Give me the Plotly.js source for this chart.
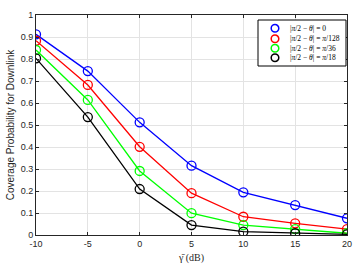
<!DOCTYPE html>
<html>
<head>
<meta charset="utf-8">
<script src="https://cdn.plot.ly/plotly-3.0.1.min.js"></script>
<style>html,body{margin:0;padding:0;background:#fff;}#chart{width:355px;height:264px;}</style>
</head>
<body>
<div id="chart"></div>
<script>
const snr = [-10, -5, 0, 5, 10, 15, 20];
const cov0 = [0.912, 0.745, 0.512, 0.315, 0.194, 0.136, 0.076];
const cov128 = [0.883, 0.682, 0.401, 0.190, 0.083, 0.053, 0.027];
const cov36 = [0.841, 0.614, 0.291, 0.099, 0.045, 0.027, 0.008];
const cov18 = [0.803, 0.536, 0.209, 0.045, 0.015, 0.008, 0.003];
const names = [
  "|<i>π</i>/2 − <i>θ</i>| = 0",
  "|<i>π</i>/2 − <i>θ</i>| = <i>π</i>/128",
  "|<i>π</i>/2 − <i>θ</i>| = <i>π</i>/36",
  "|<i>π</i>/2 − <i>θ</i>| = <i>π</i>/18"
];
const xTickVals = [-10, -5, 0, 5, 10, 15, 20];
const xTickText = ["-10", "-5", "0", "5", "10", "15", "20"];
const yTickVals = [0, 0.1, 0.2, 0.3, 0.4, 0.5, 0.6, 0.7, 0.8, 0.9, 1];
const yTickText = ["0", "0.1", "0.2", "0.3", "0.4", "0.5", "0.6", "0.7", "0.8", "0.9", "1"];
const series = [cov0, cov128, cov36, cov18];
const colors = ["#0000ff", "#ff0000", "#00ff00", "#000000"];

const data = series.map((s, i) => ({
  x: snr, y: s, name: names[i], type: "scatter", mode: "lines+markers", showlegend: false,
  line: {color: colors[i], width: 1.3},
  marker: {symbol: "circle-open", size: 9, color: colors[i], line: {width: 1.3, color: colors[i]}}
}));

// custom compact legend (MATLAB style)
const plotW = 355 - 36 - 8, plotH = 264 - 15 - 29;
const legL = (258 - 36) / plotW, legR = (346 - 36) / plotW;
const legT = (235 - 20) / plotH, legB = (235 - 66) / plotH;
const rowY = [28.3, 38.8, 48.3, 57.7].map(v => (235 - v) / plotH);
const symX = (275 - 36) / plotW, txtX = (288 - 36) / plotW;
const rx = 3.8 / plotW, ry = 3.8 / plotH;
const shapes = [{type: "rect", xref: "paper", yref: "paper", x0: legL, x1: legR, y0: legB, y1: legT,
  fillcolor: "#ffffff", line: {color: "#000000", width: 1}, layer: "above"}];
const annotations = [];
names.forEach((n, i) => {
  shapes.push({type: "circle", xref: "paper", yref: "paper", x0: symX - rx, x1: symX + rx,
    y0: rowY[i] - ry, y1: rowY[i] + ry, line: {color: colors[i], width: 1.5}, layer: "above"});
  annotations.push({xref: "paper", yref: "paper", x: txtX, y: rowY[i], xanchor: "left", yanchor: "middle",
    text: n, showarrow: false, font: {family: "Liberation Serif, serif", size: 7.5, color: "#000"}});
});

const axisCommon = {
  showline: true, linecolor: "#262626", linewidth: 1, mirror: "allticks",
  ticks: "inside", ticklen: 3, tickcolor: "#262626",
  showgrid: true, gridcolor: "#e3e3e3", gridwidth: 1, zeroline: false,
  tickfont: {family: "Liberation Sans, Arial, sans-serif", size: 9, color: "#262626"}
};
const layout = {
  width: 355, height: 264,
  margin: {l: 36, r: 8, t: 15, b: 29},
  paper_bgcolor: "#ffffff", plot_bgcolor: "#ffffff",
  showlegend: false,
  shapes: shapes, annotations: annotations,
  xaxis: Object.assign({}, axisCommon, {
    range: [-10, 20], tickvals: xTickVals, ticktext: xTickText,
    title: {text: "γ̄ (dB)", standoff: 6, font: {family: "Liberation Serif, serif", size: 10, color: "#262626"}}
  }),
  yaxis: Object.assign({}, axisCommon, {
    range: [0, 1], tickvals: yTickVals, ticktext: yTickText,
    title: {text: "Coverage Probability for Downlink", standoff: 4, font: {family: "Liberation Sans, Arial, sans-serif", size: 10, color: "#262626"}}
  })
};
Plotly.newPlot("chart", data, layout, {displayModeBar: false, staticPlot: true});
</script>
</body>
</html>
